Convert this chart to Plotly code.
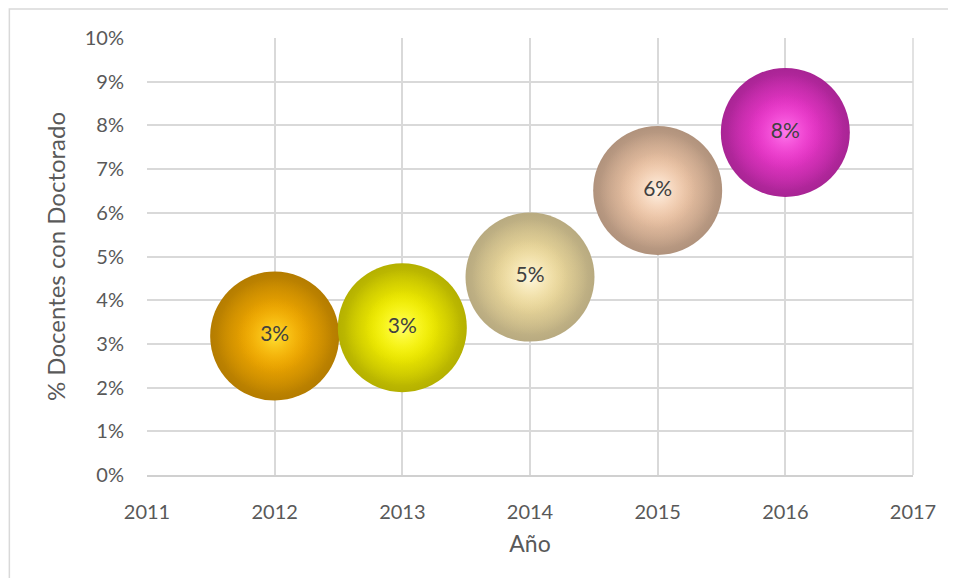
import plotly.graph_objects as go

years = [2012, 2013, 2014, 2015, 2016]
values = [0.0318, 0.0337, 0.0453, 0.0651, 0.0784]
labels = ["3%", "3%", "5%", "6%", "8%"]
base_colors = ["#F6AC00", "#F8F400", "#F2DE9E", "#F4CAAA", "#F038CE"]
edge_colors = ["#B47C00", "#B4B000", "#B8AA80", "#B0927C", "#A82494"]
base_rgba = ["rgba(246,172,0,1)", "rgba(248,244,0,1)", "rgba(242,222,158,1)",
             "rgba(244,202,170,1)", "rgba(240,56,206,1)"]
base_clear = ["rgba(246,172,0,0)", "rgba(248,244,0,0)", "rgba(242,222,158,0)",
              "rgba(244,202,170,0)", "rgba(240,56,206,0)"]
highlight_colors = ["rgba(255,232,60,0.9)", "rgba(255,255,120,0.9)", "rgba(255,251,234,0.9)",
                    "rgba(255,249,240,0.9)", "rgba(255,130,240,0.9)"]

x_ticks = [2011, 2012, 2013, 2014, 2015, 2016, 2017]
y_ticks = [i / 100 for i in range(0, 11)]
y_tick_text = [f"{i}%" for i in range(0, 11)]

FONT = "Lato, 'Open Sans', sans-serif"
GRAY = "#595959"

W, H = 940, 570
L, T, R, B = 139, 30, 33, 103
PW, PH = W - L - R, H - T - B

fig = go.Figure()

# shaded sphere body (gradient.color = centre colour for radial gradients)
fig.add_trace(go.Scatter(
    x=years, y=values, mode="markers",
    marker=dict(size=129, sizemode="diameter", color=edge_colors,
                gradient=dict(type="radial", color=base_colors),
                line=dict(width=0)),
    hoverinfo="skip", showlegend=False,
))
# keep the body bright, darkening only near the rim
fig.add_trace(go.Scatter(
    x=years, y=values, mode="markers",
    marker=dict(size=116, sizemode="diameter", color=base_clear,
                gradient=dict(type="radial", color=base_rgba),
                line=dict(width=0)),
    hoverinfo="skip", showlegend=False,
))
# soft highlight fading to transparent
fig.add_trace(go.Scatter(
    x=years, y=values, mode="markers+text",
    text=labels, textposition="middle center",
    textfont=dict(family=FONT, size=21, color="#404040"),
    marker=dict(size=76, sizemode="diameter", color=base_clear,
                gradient=dict(type="radial", color=highlight_colors),
                line=dict(width=0)),
    showlegend=False,
))

fig.update_layout(
    width=W, height=H,
    margin=dict(l=L, r=R, t=T, b=B),
    paper_bgcolor="white", plot_bgcolor="white",
    font=dict(family=FONT, color=GRAY, size=21),
    xaxis=dict(range=[2011, 2017], tickvals=x_ticks, ticktext=[str(t) for t in x_ticks],
               showgrid=True, gridcolor="#D9D9D9", gridwidth=1.5,
               zeroline=False, showline=True, linecolor="#D0D0D0", linewidth=1.5,
               ticks="", ticklabelstandoff=18,
               title=dict(text="Año", font=dict(family=FONT, size=23, color=GRAY), standoff=14),
               tickfont=dict(family=FONT, size=20, color=GRAY)),
    yaxis=dict(range=[0, 0.1], tickvals=y_ticks, ticktext=y_tick_text,
               showgrid=True, gridcolor="#D9D9D9", gridwidth=1.5,
               zeroline=False, showline=False, ticks="", ticklabelstandoff=22,
               title=dict(text="% Docentes con Doctorado", font=dict(family=FONT, size=24, color=GRAY), standoff=12),
               tickfont=dict(family=FONT, size=20, color=GRAY)),
    shapes=[
        dict(type="line", xref="paper", yref="paper", x0=1, x1=1, y0=0, y1=1,
             line=dict(color="#D9D9D9", width=1.5), layer="below"),
        dict(type="rect", xref="paper", yref="paper",
             x0=(1 - L) / PW, x1=(W + 20 - L) / PW,
             y0=-(H + 20 - (T + PH)) / PH, y1=(T + PH - 1) / PH,
             line=dict(color="#D9D9D9", width=1.5), layer="below"),
    ],
)

fig.write_html("out.html")
